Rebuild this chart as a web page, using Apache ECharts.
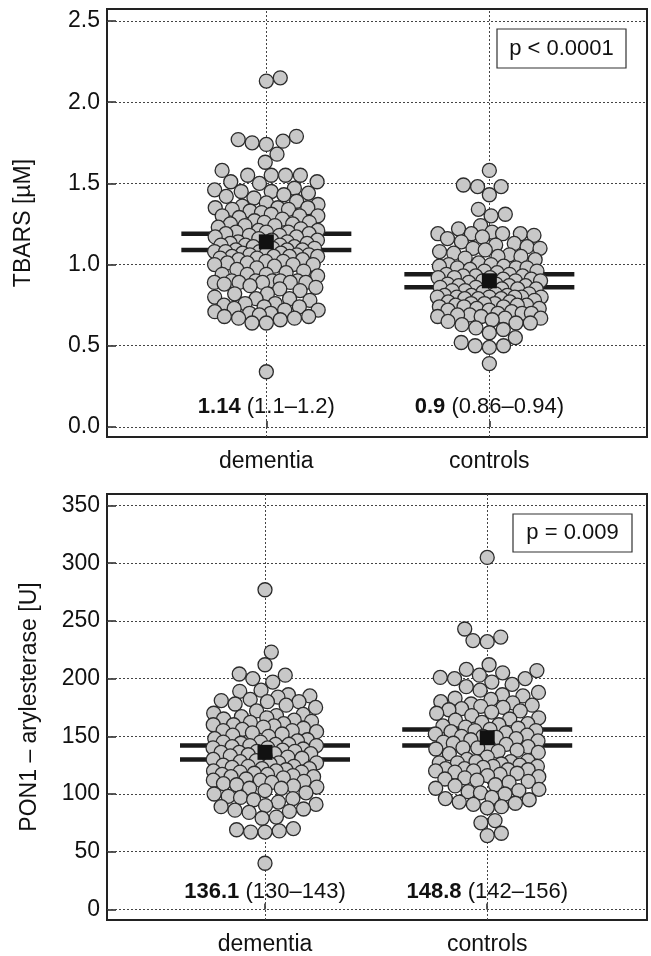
<!DOCTYPE html>
<html><head><meta charset="utf-8">
<script src="https://cdn.jsdelivr.net/npm/echarts@6/dist/echarts.min.js"></script>
<style>html,body{margin:0;padding:0;background:#fff}#c{width:651px;height:956px}</style>
</head><body><div id="c"></div>
<script>
const categories = ['dementia', 'controls'];

const tbarsDementia = [2.15, 2.13,
 1.79, 1.77, 1.76, 1.75, 1.74, 1.68, 1.63,
 1.58, 1.55, 1.55, 1.55, 1.55, 1.51, 1.51, 1.50,
 1.47, 1.46, 1.45, 1.45, 1.44, 1.43, 1.42, 1.41,
 1.39, 1.38, 1.37, 1.36, 1.35, 1.35, 1.35, 1.34, 1.34, 1.33, 1.32,
 1.31, 1.30, 1.30, 1.30, 1.29, 1.28, 1.27, 1.26, 1.26, 1.25, 1.25, 1.24, 1.24, 1.23,
 1.22, 1.21, 1.21, 1.20, 1.20, 1.20, 1.19, 1.19, 1.18, 1.18, 1.17, 1.17, 1.16, 1.15, 1.15,
 1.14, 1.14, 1.13, 1.13, 1.12, 1.12, 1.12, 1.12, 1.11, 1.11, 1.10, 1.10,
 1.09, 1.09, 1.09, 1.08, 1.08, 1.08, 1.07, 1.07, 1.07, 1.06, 1.06, 1.06, 1.05, 1.05, 1.05, 1.05,
 1.04, 1.04, 1.03, 1.03, 1.02, 1.02, 1.01, 1.01, 1.00, 1.00, 1.00, 0.99, 0.98,
 0.97, 0.96, 0.95, 0.94, 0.94, 0.94, 0.93,
 0.90, 0.90, 0.90, 0.90, 0.90, 0.89, 0.89, 0.89, 0.89, 0.89, 0.88,
 0.87, 0.86, 0.85, 0.84, 0.82, 0.82,
 0.80, 0.79, 0.79, 0.78, 0.76, 0.76, 0.75, 0.74, 0.74,
 0.73, 0.72, 0.72, 0.71, 0.70, 0.70, 0.69, 0.68, 0.68, 0.67, 0.67, 0.66, 0.64, 0.64,
 0.34];

const tbarsControls = [1.58,
 1.49, 1.48, 1.48, 1.43, 1.34, 1.31, 1.30,
 1.24, 1.22, 1.20, 1.19, 1.19, 1.19, 1.19, 1.18, 1.17, 1.16,
 1.14, 1.13, 1.12, 1.11, 1.10, 1.10, 1.09, 1.08, 1.07, 1.06, 1.05, 1.05, 1.04,
 1.03, 1.01, 1.00, 1.00, 0.99, 0.99, 0.98, 0.98, 0.98, 0.97, 0.96, 0.96, 0.95,
 0.94, 0.94, 0.93, 0.93, 0.93, 0.92, 0.92, 0.92, 0.91, 0.91, 0.90, 0.90, 0.90,
 0.89, 0.88, 0.88, 0.87, 0.87, 0.87, 0.86, 0.86, 0.86, 0.85, 0.85, 0.85, 0.84, 0.84,
 0.83, 0.82, 0.82, 0.81, 0.81, 0.81, 0.80, 0.80, 0.80, 0.80, 0.80, 0.80, 0.79, 0.79, 0.79, 0.78,
 0.77, 0.77, 0.76, 0.76, 0.76, 0.75, 0.75, 0.75, 0.74, 0.74, 0.74, 0.73, 0.73, 0.72, 0.72,
 0.71, 0.70, 0.70, 0.70, 0.69, 0.69, 0.68, 0.68, 0.67, 0.67, 0.66,
 0.65, 0.64, 0.64, 0.63, 0.61, 0.60, 0.58,
 0.55, 0.52, 0.50, 0.50, 0.49,
 0.39];

const ponDementia = [277,
 223, 212, 204, 203, 200, 197,
 190, 189, 186, 185, 184, 182, 181, 180, 180, 178, 177, 175,
 172, 170, 169, 168, 167, 166, 165, 164, 163, 162, 161, 160, 160, 159, 158, 157, 156, 155, 155, 154, 153, 152, 151, 150,
 148, 147, 146, 145, 145, 144, 143, 143, 142, 142, 141, 140, 140, 139, 138, 137, 137, 136, 136, 135, 135, 134, 133, 133, 132, 131, 130,
 129, 128, 127, 127, 126, 125, 124, 124, 123, 122, 122, 121, 120, 120, 119, 119, 118, 117, 117, 116, 115, 115, 114, 113, 112, 112, 111, 110, 109, 108, 107, 106, 105, 105,
 103, 101, 100, 98, 97, 96, 95, 93, 91, 90, 89, 87, 86, 85, 84, 80, 79,
 70, 69, 68, 67, 67,
 40];

const ponControls = [305,
 243, 236, 233, 232,
 212, 208, 207, 205, 203, 201, 200, 200,
 197, 195, 193, 190, 188, 186, 185, 183, 182, 180, 179, 178, 177, 176, 175, 174, 173, 172, 171, 170,
 168, 166, 165, 164, 162, 161, 160, 159, 158, 157, 156, 155, 155, 154, 153, 152, 151, 150, 150, 149,
 148, 147, 146, 145, 144, 143, 142, 141, 140, 140, 139, 138, 137, 136, 135,
 132, 130, 129, 128, 128, 127, 127, 126, 125, 124, 124, 123, 122, 122, 121, 121, 120, 120, 119, 118, 117, 116, 115, 114, 113, 112, 111, 110, 108, 107,
 105, 104, 103, 102, 101, 100, 97, 96, 95, 93, 92, 91, 89, 88,
 77, 75, 66, 64];

const tbarsMedian = [1.14, 0.90];
const tbarsCILow = [1.09, 0.86];
const tbarsCIHigh = [1.19, 0.94];
const ponMedian = [136.1, 148.8];
const ponCILow = [130, 142];
const ponCIHigh = [142, 156];

const tbarsTicks = [0, 0.5, 1.0, 1.5, 2.0, 2.5];
const ponTicks = [0, 50, 100, 150, 200, 250, 300, 350];

const tbarsLabels = [['1.14', ' (1.1–1.2)'], ['0.9', ' (0.86–0.94)']];
const ponLabels = [['136.1', ' (130–143)'], ['148.8', ' (142–156)']];
const pTexts = ['p < 0.0001', 'p = 0.009'];
const yNames = ['TBARS [µM]', 'PON1 – arylesterase [U]'];

// ---- layout / style ----
const FONT = 'Liberation Sans, Arial, sans-serif';
const TXT = '#111';
const DOT = 14;
const MAXHALF = 52;
const CIHALFPX = 85;

const panels = [
  { grid: {left: 107, top: 9, width: 540, height: 428}, x: [0.2855, 2.7069], y: [-0.062, 2.574],
    groups: [tbarsDementia, tbarsControls], med: tbarsMedian, lo: tbarsCILow, hi: tbarsCIHigh,
    ticks: tbarsTicks, fmt: v => v.toFixed(1), labels: tbarsLabels, labelY: 0.125,
    p: pTexts[0], name: yNames[0], nameGap: 72, box: {x: 497, y: 29, w: 129, h: 39} },
  { grid: {left: 107, top: 494, width: 540, height: 431}, x: [0.289, 2.719], y: [-9.2, 360],
    groups: [ponDementia, ponControls], med: ponMedian, lo: ponCILow, hi: ponCIHigh,
    ticks: ponTicks, fmt: v => String(v), labels: ponLabels, labelY: 15,
    p: pTexts[1], name: yNames[1], nameGap: 66, box: {x: 513, y: 514, w: 119, h: 38} }
];

function swarm(values, yPx, xPx) {
  const idx = values.map((v, i) => i).sort((a, b) => values[a] - values[b]);
  const placed = [];
  const off = new Array(values.length);
  let flip = 1;
  for (const i of idx) {
    const y = values[i] * yPx;
    let D = DOT + 0.3, best = null;
    while (best === null) {
      const ivs = [];
      for (const p of placed) {
        const dy = Math.abs(p.y - y);
        if (dy < D) { const h = Math.sqrt(D * D - dy * dy); ivs.push([p.x - h, p.x + h]); }
      }
      const cands = [0];
      ivs.forEach(iv => cands.push(iv[0], iv[1]));
      const ok = cands.filter(c => Math.abs(c) <= MAXHALF &&
        !ivs.some(iv => c > iv[0] + 1e-6 && c < iv[1] - 1e-6));
      if (ok.length) {
        ok.sort((a, b) => (Math.round(Math.abs(a) * 10) - Math.round(Math.abs(b) * 10)) || flip * (a - b));
        best = ok[0];
      } else D *= 0.93;
    }
    flip = -flip;
    placed.push({x: best, y: y});
    off[i] = best / xPx;
  }
  return off;
}

const option = {
  animation: false,
  backgroundColor: '#fff',
  grid: [], xAxis: [], yAxis: [], series: [], graphic: []
};

panels.forEach((P, k) => {
  const yPx = P.grid.height / (P.y[1] - P.y[0]);
  const xPx = P.grid.width / (P.x[1] - P.x[0]);
  option.grid.push(Object.assign({show: true, borderColor: '#222', borderWidth: 2, backgroundColor: 'transparent'}, P.grid));
  option.xAxis.push({
    type: 'value', gridIndex: k, min: P.x[0], max: P.x[1],
    axisLine: {show: false}, splitLine: {show: false},
    axisTick: {show: true, inside: true, length: 6, customValues: [1, 2], lineStyle: {color: '#222', width: 1.5}},
    axisLabel: {show: true, customValues: [1, 2], margin: 13, fontFamily: FONT, fontSize: 23, color: TXT,
      formatter: v => categories[Math.round(v) - 1] || ''}
  });
  option.yAxis.push({
    type: 'value', gridIndex: k, min: P.y[0], max: P.y[1],
    name: P.name, nameLocation: 'middle', nameRotate: 90, nameGap: P.nameGap,
    nameTextStyle: {fontFamily: FONT, fontSize: 23, color: TXT},
    axisLine: {show: false}, splitLine: {show: false},
    axisTick: {show: true, inside: true, length: 9, customValues: P.ticks, lineStyle: {color: '#222', width: 1.5}},
    axisLabel: {show: true, customValues: P.ticks, margin: 7, fontFamily: FONT, fontSize: 23, color: TXT, formatter: P.fmt}
  });
  // grid lines
  const gl = [];
  P.ticks.forEach(t => gl.push({yAxis: t}));
  [1, 2].forEach(c => gl.push({xAxis: c}));
  option.series.push({
    type: 'scatter', xAxisIndex: k, yAxisIndex: k, data: [], z: 1, silent: true,
    markLine: {silent: true, z: 1, symbol: 'none', label: {show: false}, animation: false,
      lineStyle: {color: '#444', width: 1, type: [2, 2]}, data: gl}
  });
  // CI lines
  P.groups.forEach((g, gi) => {
    const c = gi + 1, hw = CIHALFPX / xPx;
    [P.lo[gi], P.hi[gi]].forEach(v => {
      option.series.push({type: 'line', xAxisIndex: k, yAxisIndex: k, z: 2, silent: true,
        symbol: 'none', lineStyle: {color: '#1a1a1a', width: 4.5, opacity: 1}, data: [[c - hw, v], [c + hw, v]]});
    });
  });
  // dots
  P.groups.forEach((g, gi) => {
    const off = swarm(g, yPx, xPx);
    option.series.push({
      type: 'scatter', xAxisIndex: k, yAxisIndex: k, z: 3, symbolSize: DOT,
      itemStyle: {color: '#c8c8c8', borderColor: '#2b2b2b', borderWidth: 1.3, opacity: 1},
      data: g.map((v, i) => [gi + 1 + off[i], v])
    });
  });
  // median squares
  option.series.push({
    type: 'scatter', xAxisIndex: k, yAxisIndex: k, z: 4, symbol: 'rect', symbolSize: 15,
    itemStyle: {color: '#111', opacity: 1}, data: P.med.map((m, i) => [i + 1, m])
  });
  // annotation texts
  option.series.push({
    type: 'scatter', xAxisIndex: k, yAxisIndex: k, z: 5, symbolSize: 0.1, itemStyle: {color: '#111', opacity: 1},
    data: P.labels.map((l, i) => [i + 1, P.labelY]),
    label: {show: true, position: 'inside', fontFamily: FONT, fontSize: 22, color: TXT, textBorderWidth: 0, opacity: 1,
      formatter: p => '{b|' + P.labels[p.dataIndex][0] + '}{n|' + P.labels[p.dataIndex][1] + '}',
      rich: {b: {fontFamily: FONT, fontSize: 22, fontWeight: 'bold', color: TXT, textBorderWidth: 0},
             n: {fontFamily: FONT, fontSize: 22, color: TXT, textBorderWidth: 0}}}
  });
  // p-value box
  option.graphic.push({type: 'rect', shape: {x: P.box.x, y: P.box.y, width: P.box.w, height: P.box.h},
    style: {fill: '#fff', stroke: '#333', lineWidth: 1.2}, z: 10});
  option.graphic.push({type: 'text', x: P.box.x + P.box.w / 2, y: P.box.y + P.box.h / 2, z: 11,
    style: {text: P.p, font: '22px ' + FONT, fill: TXT, align: 'center', verticalAlign: 'middle'}});
});

const chart = echarts.init(document.getElementById('c'), null, {renderer: 'canvas'});
chart.setOption(option);
</script></body></html>
